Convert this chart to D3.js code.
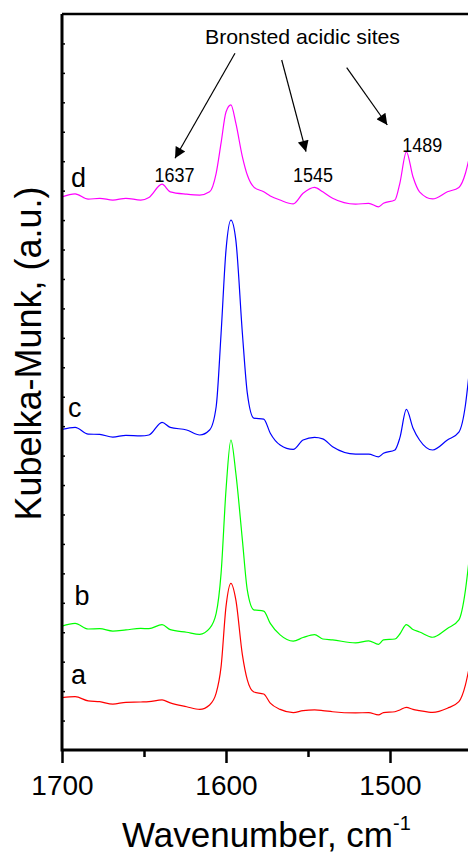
<!DOCTYPE html>
<html>
<head>
<meta charset="utf-8">
<script src="https://cdn.jsdelivr.net/npm/d3@7/dist/d3.min.js"></script>
<style>
  html, body { margin: 0; padding: 0; background: #fff; }
  svg { display: block; }
  text { font-family: "Liberation Sans", Arial, Helvetica, sans-serif; fill: #000; }
</style>
</head>
<body>
<svg id="chart" width="468" height="854"></svg>
<script>
// ---- data ----
const wavenumbers = [1700,1692,1684,1677,1669,1661,1652,1647,1639,1634,1624,1616,1610,1606,1603,1600,1597,1594,1590,1587,1583,1577,1573,1567,1559,1553,1546,1541,1535,1521,1513,1507,1504,1497,1494,1490,1486,1482,1474,1465,1458,1454,1452];
const seriesA = [1.78,1.81,1.67,1.64,1.56,1.62,1.63,1.64,1.70,1.60,1.47,1.38,1.53,1.93,2.83,4.87,5.66,5.10,3.23,2.38,1.97,1.90,1.59,1.38,1.27,1.34,1.36,1.34,1.30,1.26,1.27,1.19,1.27,1.30,1.36,1.45,1.38,1.34,1.28,1.42,1.64,2.21,2.72];
const seriesB = [4.21,4.30,4.11,4.12,4.04,4.08,4.13,4.12,4.26,4.09,4.00,3.93,4.13,4.64,6.00,8.83,10.53,9.40,7.13,5.43,4.76,4.72,4.30,3.91,3.70,3.82,3.92,3.77,3.74,3.64,3.71,3.59,3.74,3.77,3.94,4.26,4.09,4.01,3.83,4.13,4.42,5.43,6.35];
const seriesC = [10.89,10.96,10.73,10.72,10.63,10.69,10.67,10.70,11.13,10.96,10.87,10.70,10.87,11.66,14.15,16.98,18.00,17.32,14.15,12.12,11.27,11.24,10.76,10.36,10.21,10.53,10.62,10.57,10.30,10.05,10.05,9.96,10.08,10.19,10.60,11.57,10.94,10.53,10.19,10.53,10.80,11.72,12.67];
const seriesD = [18.79,18.89,18.71,18.74,18.68,18.74,18.68,18.77,19.22,18.96,18.88,18.85,18.96,19.59,20.62,21.67,21.91,21.29,20.15,19.53,19.12,18.96,18.82,18.68,18.55,18.91,19.11,18.96,18.74,18.54,18.57,18.45,18.57,18.68,19.25,20.32,19.47,18.96,18.72,18.96,19.11,19.59,20.04];
const seriesNames = ["a","b","c","d"];
const seriesColors = ["#ff0000","#00ff00","#0000ff","#ff00ff"];
const xTickValues = [1700,1600,1500];
const xMinorTickValues = [1650,1550];
const yTickValues = d3.range(1,25);
const peakLabels = ["1637","1545","1489"];
const annotationTitle = "Bronsted acidic sites";

(function () {
// ---- layout ----
const pLeft = 62, pTop = 14, pBottom = 750, pRight = 468;
const x = d3.scaleLinear().domain([1700, 1452.44]).range([pLeft, pRight]);
const y = d3.scaleLinear().domain([0, 25]).range([pBottom, pTop]);
const svg = d3.select("#chart");

// curves
const allSeries = [seriesA, seriesB, seriesC, seriesD];
const line = d3.line().x(d => x(d[0])).y(d => y(d[1])).curve(d3.curveMonotoneX);
allSeries.forEach((s, i) => {
  svg.append("path")
    .datum(wavenumbers.map((w, j) => [w, s[j]]))
    .attr("fill", "none")
    .attr("stroke", seriesColors[i])
    .attr("stroke-width", 1.2)
    .attr("d", line);
});

// top frame
svg.append("line").attr("x1", pLeft).attr("x2", pRight).attr("y1", pTop).attr("y2", pTop)
  .attr("stroke", "#000").attr("stroke-width", 2.5);

// x axis
const xAxis = d3.axisBottom(x).tickValues(xTickValues).tickSize(13).tickPadding(6)
  .tickFormat(d3.format("d"));
const gx = svg.append("g").attr("transform", `translate(0,${pBottom})`).call(xAxis);
gx.select(".domain").attr("stroke-width", 3).attr("d", `M${pLeft},0H${pRight}`);
gx.selectAll(".tick line").attr("stroke-width", 2.5);
gx.selectAll(".tick text").attr("font-size", 28).attr("dy", null).attr("y", 45)
  .style("font-family", '"Liberation Sans", Arial, sans-serif');
const xMinor = d3.axisBottom(x).tickValues(xMinorTickValues).tickSize(7).tickFormat("");
const gxm = svg.append("g").attr("transform", `translate(0,${pBottom})`).call(xMinor);
gxm.select(".domain").remove();
gxm.selectAll(".tick line").attr("stroke-width", 2.5);

// y axis (ticks inward, no labels)
const yAxis = d3.axisLeft(y).tickValues(yTickValues).tickSize(-3).tickFormat("");
const gy = svg.append("g").attr("transform", `translate(${pLeft},0)`).call(yAxis);
gy.select(".domain").attr("stroke-width", 3).attr("d", `M0,${pTop}V${pBottom + 1.5}`);
gy.selectAll(".tick line").attr("stroke-width", 1.5);

// axis titles
const xt = svg.append("text").attr("x", 122).attr("y", 846.5).attr("font-size", 35);
xt.append("tspan").text("Wavenumber, cm");
xt.append("tspan").attr("font-size", 20).attr("dy", -17).text("-1");

svg.append("text")
  .attr("transform", "translate(40.5,353.5) rotate(-90)")
  .attr("text-anchor", "middle")
  .attr("font-size", 36)
  .text("Kubelka-Munk, (a.u.)");

// curve labels
const curveLabelPos = [[71, 684], [74.5, 605], [68, 416.7], [71, 187.3]];
seriesNames.forEach((n, i) => {
  svg.append("text").attr("x", curveLabelPos[i][0]).attr("y", curveLabelPos[i][1])
    .attr("font-size", 27).text(n);
});

// annotation
svg.append("text").attr("x", 302.5).attr("y", 44).attr("text-anchor", "middle")
  .attr("font-size", 21).attr("textLength", 195).attr("lengthAdjust", "spacingAndGlyphs")
  .text(annotationTitle);

const peakLabelPos = [[174.5, 181.7], [313, 181.7], [422.2, 151.7]];
peakLabels.forEach((t, i) => {
  svg.append("text").attr("x", peakLabelPos[i][0] - 20).attr("y", peakLabelPos[i][1])
    .attr("font-size", 20).attr("textLength", 40).attr("lengthAdjust", "spacingAndGlyphs")
    .text(t);
});

// arrows
const defs = svg.append("defs");
defs.append("marker").attr("id", "arrow").attr("viewBox", "0 0 10 10")
  .attr("refX", 10).attr("refY", 5).attr("markerWidth", 16).attr("markerHeight", 11)
  .attr("markerUnits", "userSpaceOnUse").attr("orient", "auto")
  .append("path").attr("d", "M0,0L10,5L0,10Z").attr("fill", "#000");
const arrows = [[235, 53.3, 175, 158.3], [281.7, 60, 306, 151.7], [346.7, 67.7, 387.3, 125]];
arrows.forEach(a => {
  svg.append("line").attr("x1", a[0]).attr("y1", a[1]).attr("x2", a[2]).attr("y2", a[3])
    .attr("stroke", "#000").attr("stroke-width", 1.2).attr("marker-end", "url(#arrow)");
});
})();
</script>
</body>
</html>
